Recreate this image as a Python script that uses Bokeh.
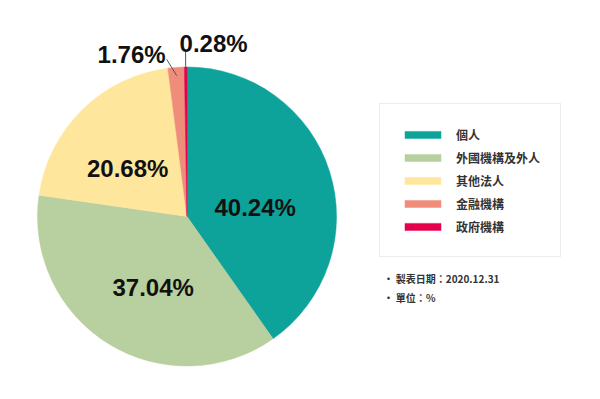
import numpy as np
from bokeh.plotting import figure
from bokeh.models import Range1d, ColumnDataSource, Legend, LegendItem
from bokeh.embed import file_html
from bokeh.resources import INLINE
from bokeh.core.properties import value

# ---- data ----
categories = ["個人", "外國機構及外人", "其他法人", "金融機構", "政府機構"]
shares = [40.24, 37.04, 20.68, 1.76, 0.28]
colors = ["#0ea39a", "#b8cf9f", "#fee79c", "#f08c7a", "#e5004c"]
note_lines = ["· 製表日期：2020.12.31", "· 單位：％"]

# ---- layout ----
W, H = 584, 383
CX, CY, R = 186.5, 167.0, 149.5
inside = [True, True, True, False, False]
label_angle_nudge = [-10.0, 6.0, 6.5, 3.2, 0.0]   # degrees
label_radius = [0.46, 0.525, 0.51, 1.06, 1.10]
FONT = "Liberation Sans"
CJK = "Noto Sans CJK TC"

vals = np.array(shares, dtype=float)
frac = vals / vals.sum()
cum_after = np.cumsum(frac)
cum_before = cum_after - frac
start = np.pi / 2 - 2 * np.pi * cum_after
end = np.pi / 2 - 2 * np.pi * cum_before
mid = (start + end) / 2

src = ColumnDataSource(dict(name=categories, start=start, end=end, color=colors))

p = figure(width=W, height=H, x_range=Range1d(0, W), y_range=Range1d(0, H),
           output_backend="svg", toolbar_location=None, min_border=0,
           x_axis_type=None, y_axis_type=None)
p.grid.visible = False
p.outline_line_color = None
p.background_fill_color = "white"
p.border_fill_color = "white"

w = p.wedge(x=CX, y=CY, radius=R, start_angle="start", end_angle="end",
            fill_color="color", line_color="color", line_width=0.5, source=src)

# labels inside slices
bx, by, bt = [], [], []
for i, s in enumerate(shares):
    if inside[i]:
        a = mid[i] + np.deg2rad(label_angle_nudge[i])
        bx.append(CX + label_radius[i] * R * np.cos(a))
        by.append(CY + label_radius[i] * R * np.sin(a))
        bt.append(f"{s:.2f}%")
p.text(x=bx, y=by, text=bt, text_align="center", text_baseline="middle",
       text_font=value(FONT), text_font_size="24px", text_font_style="bold",
       text_color="#111111")

# leaders for small slices
small_idx = [i for i in range(len(shares)) if not inside[i]]
xs, ys = [], []
ends = {}
for i in small_idx:
    a0 = mid[i]
    a1 = mid[i] + np.deg2rad(label_angle_nudge[i])
    x0, y0 = CX + 0.945 * R * np.cos(a0), CY + 0.945 * R * np.sin(a0)
    x1, y1 = CX + label_radius[i] * R * np.cos(a1), CY + label_radius[i] * R * np.sin(a1)
    xs.append([x0, x1]); ys.append([y0, y1])
    ends[i] = (x1, y1)
p.multi_line(xs=xs, ys=ys, line_color="#555555", line_width=1)

i1, i2 = small_idx
p.text(x=[ends[i1][0] - 1], y=[ends[i1][1] + 5], text=[f"{shares[i1]:.2f}%"],
       text_align="right", text_baseline="alphabetic",
       text_font=value(FONT), text_font_size="24px", text_font_style="bold",
       text_color="#111111")
p.text(x=[ends[i2][0] - 6], y=[ends[i2][1] + 9], text=[f"{shares[i2]:.2f}%"],
       text_align="left", text_baseline="alphabetic",
       text_font=value(FONT), text_font_size="24px", text_font_style="bold",
       text_color="#111111")

# notes
p.text(x=[383, 383], y=[105, 86], text=note_lines, text_align="left",
       text_baseline="middle", text_font=value(CJK), text_font_size="10px",
       text_font_style="bold", text_color="#333333")

legend = Legend(location=(379, 126))
legend.items = [LegendItem(label=c, renderers=[w], index=i) for i, c in enumerate(categories)]
legend.glyph_width = 45
legend.glyph_height = 9
legend.label_height = 20
legend.spacing = 3
legend.padding = 20
legend.margin = 0
legend.label_standoff = 11
legend.label_text_font = CJK
legend.label_text_font_size = "12px"
legend.label_text_color = "#333333"
legend.label_text_font_style = "bold"
legend.border_line_color = "#d9d9d9"
legend.border_line_width = 1.5
legend.background_fill_color = "white"
legend.background_fill_alpha = 1
p.add_layout(legend, "center")

open("out.html", "w").write(file_html(p, INLINE))
